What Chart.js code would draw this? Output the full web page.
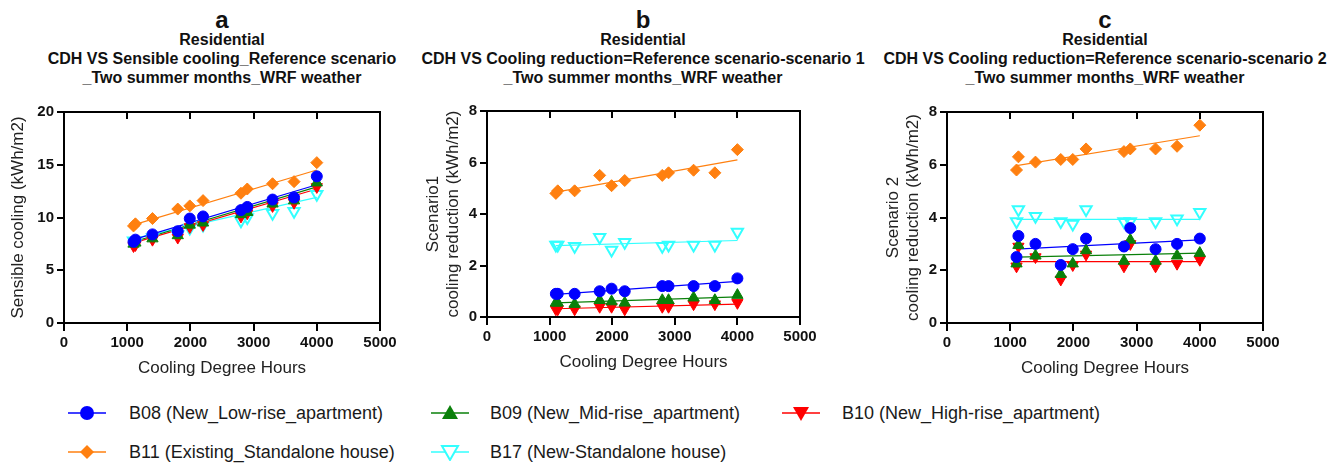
<!DOCTYPE html>
<html>
<head>
<meta charset="utf-8">
<script src="https://cdn.jsdelivr.net/npm/chart.js@4.4.1/dist/chart.umd.min.js"></script>
<style>
  body { margin: 0; background: #fff; width: 1338px; height: 464px; position: relative; overflow: hidden;
         font-family: "Liberation Sans", Arial, sans-serif; color: #111; }
  canvas { position: absolute; }
  .head { position: absolute; width: 600px; text-align: center; font-weight: bold; white-space: nowrap; }
  .letter { font-size: 24px; line-height: 28px; }
  .sub { font-size: 16px; line-height: 19px; }
  .legsym { position: absolute; }
  .legtxt { position: absolute; font-size: 18px; line-height: 20px; white-space: nowrap; color: #1a1a1a; }
</style>
</head>
<body>
<div class="head letter" style="left:-78px;top:6px">a</div>
<div class="head sub" style="left:-78px;top:30px">Residential<br>CDH VS Sensible cooling_Reference scenario<br>_Two summer months_WRF weather</div>
<div class="head letter" style="left:343px;top:6px">b</div>
<div class="head sub" style="left:343px;top:30px">Residential<br>CDH VS Cooling reduction=Reference scenario-scenario 1<br>_Two summer months_WRF weather</div>
<div class="head letter" style="left:805px;top:6px">c</div>
<div class="head sub" style="left:805px;top:30px">Residential<br>CDH VS Cooling reduction=Reference scenario-scenario 2<br>_Two summer months_WRF weather</div>

<canvas id="chartA" width="440" height="280" style="left:0;top:100px"></canvas>
<canvas id="chartB" width="420" height="275" style="left:420px;top:99px"></canvas>
<canvas id="chartC" width="420" height="280" style="left:880px;top:100px"></canvas>

<div id="legend"></div>

<script>
// cooling degree hours of the eleven locations (x)
const cdh = [1100, 1130, 1400, 1800, 1990, 2200, 2800, 2900, 3300, 3640, 4000];

const seriesNames = [
  "B08 (New_Low-rise_apartment)",
  "B09 (New_Mid-rise_apartment)",
  "B10 (New_High-rise_apartment)",
  "B11 (Existing_Standalone house)",
  "B17 (New-Standalone house)",
];

// a: sensible cooling, reference scenario
const b08A = [7.7, 7.9, 8.4, 8.7, 9.9, 10.1, 10.7, 11.0, 11.7, 11.9, 13.9];
const b09A = [7.5, 7.6, 8.0, 8.3, 9.3, 9.5, 10.3, 10.5, 11.3, 11.6, 13.3];
const b10A = [7.3, 7.4, 7.9, 8.1, 9.1, 9.3, 10.1, 10.4, 11.1, 11.4, 12.9];
const b11A = [9.2, 9.4, 9.9, 10.8, 11.1, 11.6, 12.3, 12.7, 13.2, 13.4, 15.2];
const b17A = [7.8, 7.6, 8.1, 8.4, 9.0, 9.3, 9.7, 10.0, 10.4, 10.6, 12.2];
// fitted line values at first / last CDH
const fitA = [[7.9, 13.1], [7.7, 12.9], [7.6, 12.7], [9.3, 14.5], [8.0, 11.9]];

// b: reduction, scenario 1
const b08B = [0.9, 0.9, 0.9, 1.0, 1.1, 1.0, 1.2, 1.2, 1.2, 1.2, 1.5];
const b09B = [0.55, 0.55, 0.5, 0.65, 0.6, 0.55, 0.65, 0.65, 0.75, 0.65, 0.85];
const b10B = [0.3, 0.3, 0.3, 0.4, 0.4, 0.3, 0.4, 0.4, 0.5, 0.5, 0.55];
const b11B = [4.8, 4.9, 4.9, 5.5, 5.1, 5.3, 5.5, 5.6, 5.7, 5.6, 6.5];
const b17B = [2.8, 2.8, 2.75, 3.1, 2.6, 2.9, 2.75, 2.8, 2.8, 2.8, 3.3];
const fitB = [[0.88, 1.38], [0.55, 0.78], [0.32, 0.5], [4.85, 6.1], [2.77, 2.97]];

// c: reduction, scenario 2
const b08C = [2.5, 3.3, 3.0, 2.2, 2.8, 3.2, 2.9, 3.6, 2.8, 3.0, 3.2];
const b09C = [2.25, 2.95, 2.55, 1.85, 2.25, 2.75, 2.35, 3.15, 2.35, 2.55, 2.65];
const b10C = [2.15, 2.9, 2.5, 1.65, 2.2, 2.6, 2.15, 3.0, 2.15, 2.25, 2.4];
const b11C = [5.8, 6.3, 6.1, 6.2, 6.2, 6.6, 6.5, 6.6, 6.6, 6.7, 7.5];
const b17C = [3.85, 4.3, 4.05, 3.85, 3.75, 4.3, 3.85, 3.85, 3.85, 3.95, 4.2];
const fitC = [[2.8, 3.15], [2.5, 2.65], [2.33, 2.33], [5.97, 7.1], [3.93, 3.93]];

const FONT = '"Liberation Sans", Arial, sans-serif';
const styles = [
  { color: "#0000ff", point: "circle", r: 5.5, rot: 0, hollow: false },
  { color: "#0a800a", point: "triangle", r: 6.5, rot: 0, hollow: false },
  { color: "#ff0000", point: "triangle", r: 6.5, rot: 180, hollow: false },
  { color: "#ff8010", point: "rectRot", r: 6, rot: 0, hollow: false },
  { color: "#33ffff", point: "triangle", r: 6.5, rot: 180, hollow: true },
];

// top frame line with inward ticks + right frame line
const framePlugin = {
  id: "frame",
  afterDraw(chart) {
    const { ctx, chartArea: a } = chart;
    const x = chart.scales.x;
    ctx.save();
    ctx.strokeStyle = "#000";
    ctx.lineWidth = 2;
    ctx.beginPath();
    ctx.moveTo(a.left - 1, a.top);
    ctx.lineTo(a.right, a.top);
    ctx.lineTo(a.right, a.bottom + 1);
    ctx.stroke();
    ctx.beginPath();
    x.ticks.forEach((t) => {
      const px = Math.round(x.getPixelForValue(t.value));
      if (px <= a.left + 1 || px >= a.right - 1) return;
      ctx.moveTo(px, a.top);
      ctx.lineTo(px, a.top + 7);
    });
    ctx.stroke();
    ctx.restore();
  },
};

function makePanel(id, values, fits, yMax, yStep, yTitle, layout) {
  const scatterSets = values.map((vals, i) => {
    const s = styles[i];
    return {
      label: seriesNames[i],
      data: vals.map((v, k) => ({ x: cdh[k], y: v })),
      showLine: false,
      pointStyle: s.point,
      pointRotation: s.rot,
      pointRadius: s.r,
      pointBackgroundColor: s.hollow ? "rgba(0,0,0,0)" : s.color,
      pointBorderColor: s.color,
      pointBorderWidth: s.hollow ? 2 : 1,
    };
  });
  const fitSets = fits.map((f, i) => ({
    label: seriesNames[i] + " fit",
    data: [{ x: cdh[0], y: f[0] }, { x: cdh[cdh.length - 1], y: f[1] }],
    showLine: true,
    borderColor: styles[i].color,
    borderWidth: 1.2,
    pointRadius: 0,
  }));

  return new Chart(document.getElementById(id), {
    type: "scatter",
    data: { datasets: [...scatterSets, ...fitSets] },
    plugins: [framePlugin],
    options: {
      responsive: false,
      animation: false,
      layout: { padding: { top: 12, right: layout.right, left: 0, bottom: 0 } },
      plugins: { legend: { display: false }, tooltip: { enabled: false } },
      scales: {
        x: {
          type: "linear",
          min: 0, max: 5000,
          ticks: { stepSize: 1000, color: "#111", padding: 3, maxRotation: 0,
                   callback: (v) => String(v),
                   font: { family: FONT, size: 15, weight: "bold" } },
          grid: { display: true, drawOnChartArea: false, drawTicks: true, tickLength: 8, color: "#000", lineWidth: 2 },
          border: { display: true, color: "#000", width: 2 },
          title: { display: true, text: "Cooling Degree Hours", color: "#222",
                   font: { family: FONT, size: 17 }, padding: { top: 4, bottom: 1 } },
          afterFit: (s) => { s.height = 57; },
        },
        y: {
          min: 0, max: yMax,
          ticks: { stepSize: yStep, color: "#111", padding: 3,
                   callback: (v) => String(v),
                   font: { family: FONT, size: 15, weight: "bold" } },
          grid: { display: true, drawOnChartArea: false, drawTicks: true, tickLength: 7, color: "#000", lineWidth: 2 },
          border: { display: true, color: "#000", width: 2 },
          title: { display: true, text: yTitle, color: "#222",
                   font: { family: FONT, size: 17 }, padding: { top: layout.titlePad, bottom: 0 } },
          afterFit: (s) => { s.width = layout.yWidth; },
        },
      },
    },
  });
}

makePanel("chartA", [b08A, b09A, b10A, b11A, b17A], fitA, 20, 5,
  "Sensible cooling (kWh/m2)", { right: 60, yWidth: 64, titlePad: 8 });
makePanel("chartB", [b08B, b09B, b10B, b11B, b17B], fitB, 8, 2,
  ["Scenario1", "cooling reduction (kWh/m2)"], { right: 40, yWidth: 67, titlePad: 3 });
makePanel("chartC", [b08C, b09C, b10C, b11C, b17C], fitC, 8, 2,
  ["Scenario 2", "cooling reduction (kWh/m2)"], { right: 37, yWidth: 67, titlePad: 3 });

// legend: symbol + text positions
function legendSymbol(i, w) {
  const s = styles[i];
  const c = s.color, cx = w / 2, cy = 9;
  let mark = "";
  if (s.point === "circle") mark = `<circle cx="${cx}" cy="${cy}" r="7" fill="${c}"/>`;
  else if (s.point === "rectRot") mark = `<polygon points="${cx},${cy - 7} ${cx + 7},${cy} ${cx},${cy + 7} ${cx - 7},${cy}" fill="${c}"/>`;
  else if (s.rot === 0) mark = `<polygon points="${cx},${cy - 8} ${cx + 8},${cy + 6} ${cx - 8},${cy + 6}" fill="${c}"/>`;
  else mark = `<polygon points="${cx - 8},${cy - 6} ${cx + 8},${cy - 6} ${cx},${cy + 8}" fill="${s.hollow ? "#fff" : c}" stroke="${c}" stroke-width="${s.hollow ? 2 : 0}"/>`;
  return `<svg width="${w}" height="18"><line x1="0" y1="${cy}" x2="${w}" y2="${cy}" stroke="${c}" stroke-width="1.5"/>${mark}</svg>`;
}
const legendPos = [
  { sx: 68, w: 38, tx: 129, y: 413 },
  { sx: 431, w: 38, tx: 490, y: 413 },
  { sx: 782, w: 38, tx: 842, y: 413 },
  { sx: 68, w: 38, tx: 129, y: 452 },
  { sx: 431, w: 38, tx: 490, y: 452 },
];
document.getElementById("legend").innerHTML = legendPos
  .map((p, i) => `<div class="legsym" style="left:${p.sx}px;top:${p.y - 9}px">${legendSymbol(i, p.w)}</div>
    <div class="legtxt" style="left:${p.tx}px;top:${p.y - 10}px">${seriesNames[i]}</div>`)
  .join("");
</script>
</body>
</html>
